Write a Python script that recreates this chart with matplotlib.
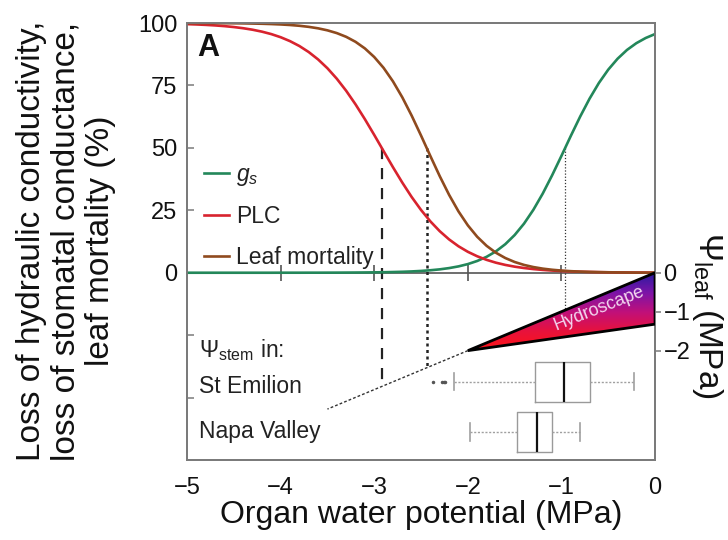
import numpy as np
import matplotlib
matplotlib.use("Agg")
import matplotlib.pyplot as plt
from matplotlib.patches import Polygon
from matplotlib.colors import LinearSegmentedColormap

plt.rcParams["font.family"] = ["Liberation Sans", "DejaVu Sans"]
plt.rcParams["mathtext.fontset"] = "custom"
plt.rcParams["mathtext.rm"] = "Liberation Sans"
plt.rcParams["mathtext.it"] = "Liberation Sans:italic"
plt.rcParams["mathtext.bf"] = "Liberation Sans:bold"

# organ water potential (MPa) and the three response curves (%)
psi = [-5.0, -4.9, -4.8, -4.7, -4.6, -4.5, -4.4, -4.3, -4.2, -4.1,
       -4.0, -3.9, -3.8, -3.7, -3.6, -3.5, -3.4, -3.3, -3.2, -3.1,
       -3.0, -2.9, -2.8, -2.7, -2.6, -2.5, -2.4, -2.3, -2.2, -2.1,
       -2.0, -1.9, -1.8, -1.7, -1.6, -1.5, -1.4, -1.3, -1.2, -1.1,
       -1.0, -0.9, -0.8, -0.7, -0.6, -0.5, -0.4, -0.3, -0.2, -0.1, 0.0]
gs = [0.0, 0.0, 0.0, 0.0, 0.0, 0.0, 0.0, 0.0, 0.0, 0.0,
      0.01, 0.01, 0.01, 0.02, 0.02, 0.03, 0.04, 0.06, 0.08, 0.11,
      0.15, 0.20, 0.28, 0.38, 0.52, 0.72, 0.99, 1.35, 1.86, 2.54,
      3.46, 4.71, 6.37, 8.56, 11.43, 15.09, 19.65, 25.20, 31.69, 38.99,
      46.80, 54.79, 62.53, 69.68, 75.99, 81.33, 85.71, 89.21, 91.92, 94.00, 95.58]
plc = [99.55, 99.42, 99.25, 99.03, 98.75, 98.38, 97.91, 97.31, 96.54, 95.56,
       94.31, 92.74, 90.79, 88.37, 85.42, 81.88, 77.69, 72.87, 67.43, 61.49,
       55.18, 48.70, 42.26, 36.08, 30.32, 25.13, 20.55, 16.63, 13.33, 10.60,
       8.38, 6.59, 5.16, 4.02, 3.13, 2.43, 1.89, 1.46, 1.13, 0.87,
       0.67, 0.52, 0.40, 0.31, 0.24, 0.18, 0.14, 0.11, 0.08, 0.07, 0.05]
mortality = [99.98, 99.97, 99.96, 99.94, 99.92, 99.89, 99.85, 99.78, 99.70, 99.58,
             99.42, 99.20, 98.89, 98.46, 97.87, 97.06, 95.96, 94.47, 92.47, 89.82,
             86.38, 82.03, 76.63, 70.22, 62.90, 54.93, 46.70, 38.65, 31.17, 24.56,
             18.97, 14.40, 10.79, 8.00, 5.89, 4.30, 3.13, 2.27, 1.64, 1.19,
             0.86, 0.62, 0.44, 0.32, 0.23, 0.17, 0.12, 0.09, 0.06, 0.04, 0.03]

# water potential at 50 % for each curve
p50_plc = -2.92
p50_mort = -2.44
p50_gs = -0.96

# hydroscape (psi_stem vs psi_leaf) and the 1:1 extension
hydro_stem = [0.0, -2.0, 0.0]
hydro_leaf = [0.0, -2.0, -1.32]
line_stem = [-2.0, -3.5]

# psi_stem distributions per site
sites = ["St Emilion", "Napa Valley"]
site_stats = [
    dict(whislo=-2.15, q1=-1.28, med=-0.97, q3=-0.69, whishi=-0.22,
         fliers=[-2.37, -2.28, -2.26, -2.24]),
    dict(whislo=-1.98, q1=-1.48, med=-1.26, q3=-1.10, whishi=-0.80, fliers=[]),
]

K = 15.6  # left-axis units per MPa on the right axis
GRAY = "#7a7a7a"

fig = plt.figure(figsize=(7.28, 5.4), dpi=100)
ax = fig.add_axes([0.2569, 0.1481, 0.6429, 0.8093])
ax.set_xlim(-5, 0)
ax.set_ylim(-75, 100)

ax.axhline(0, color="#555555", lw=1.2, zorder=1.5)
ax.plot([-4, -3, -2, -1], [0, 0, 0, 0], ls="none", marker="|", ms=11, mew=1.2,
        color="#555555", zorder=1.6)

l_gs, = ax.plot(psi, gs, color="#23875a", lw=1.9, zorder=3)
l_plc, = ax.plot(psi, plc, color="#d8232e", lw=1.9, zorder=3)
l_mort, = ax.plot(psi, mortality, color="#8f4a1e", lw=1.9, zorder=3)

ax.plot([p50_plc, p50_plc], [50, p50_plc * K], color="#222222", lw=1.6,
        ls=(0, (5, 4)), zorder=2)
ax.plot([p50_mort, p50_mort], [50, p50_mort * K], color="#222222", lw=1.8,
        ls=(0, (1.2, 1.4)), zorder=2)
ax.plot([p50_gs, p50_gs], [50, p50_gs * K], color="#333333", lw=0.9,
        ls=(0, (1, 1.5)), zorder=2)

ax.bxp(site_stats, positions=[-43.6, -63.7], widths=16, vert=False,
       capwidths=7, showfliers=True, patch_artist=False,
       boxprops=dict(color="#9a9a9a", lw=1.0),
       medianprops=dict(color="#111111", lw=1.6),
       whiskerprops=dict(color="#a0a0a0", lw=1.0, ls=(0, (1.5, 1.2))),
       capprops=dict(color="#a0a0a0", lw=1.2),
       flierprops=dict(marker=".", ms=3, mfc="#555555", mec="#555555"))

ax.text(-4.87, -31, r"$\Psi_{\mathrm{stem}}$ in:", fontsize=16.5, va="center", color="#222222")
ax.text(-4.87, -45.5, sites[0], fontsize=16.5, va="center", color="#222222")
ax.text(-4.87, -63.5, sites[1], fontsize=16.5, va="center", color="#222222")

ax.text(0.022, 0.978, "A", transform=ax.transAxes, fontsize=22, fontweight="bold",
        va="top", ha="left", color="#111111")

leg = ax.legend([l_gs, l_plc, l_mort], [r"$g_s$", "PLC", "Leaf mortality"],
                loc="upper left", bbox_to_anchor=(0.036, 0.679), frameon=False,
                fontsize=16.5, handlelength=1.1, handletextpad=0.3,
                labelspacing=0.75, borderpad=0, borderaxespad=0)
for t in leg.get_texts():
    t.set_color("#222222")

ax.set_yticks([-50, -25, 0, 25, 50, 75, 100])
ax.set_yticklabels(["", "", "0", "25", "50", "75", "100"])
ax.set_xticks([-5, -4, -3, -2, -1, 0])
ax.set_xticklabels(["\u22125", "\u22124", "\u22123", "\u22122", "\u22121", "0"])
ax.tick_params(axis="y", direction="in", length=5, width=1.1, color=GRAY,
               labelsize=17, pad=7, labelcolor="#111111")
ax.tick_params(axis="x", length=0, labelsize=17, pad=12, labelcolor="#111111")
ax.set_xlabel("Organ water potential (MPa)", fontsize=23, color="#111111", labelpad=1)
for s in ax.spines.values():
    s.set_color(GRAY)
    s.set_linewidth(1.3)

# right axis: leaf water potential
ax2 = ax.twinx()
ax2.set_ylim(-75 / K, 100 / K)
ax2.set_yticks([-2, -1, 0])
ax2.set_yticklabels(["\u22122", "\u22121", "0"])
ax2.tick_params(axis="y", direction="out", length=4, width=1.1, color=GRAY,
                labelsize=17, pad=2, labelcolor="#111111")
for s in ax2.spines.values():
    s.set_color(GRAY)
    s.set_linewidth(1.3)

cmap = LinearSegmentedColormap.from_list(
    "hydro", ["#ff1414", "#e8123c", "#c0107a", "#7c14a8", "#2a1aa0"])
grad = np.linspace(0, 1, 256).reshape(-1, 1)
img = ax2.imshow(grad, cmap=cmap, extent=(-2, 0, -2, 0), origin="lower",
                 aspect="auto", zorder=2)
poly = Polygon(np.column_stack([hydro_stem, hydro_leaf]), closed=True,
               facecolor="none", edgecolor="black", lw=2.0, zorder=3)
ax2.add_patch(poly)
img.set_clip_path(poly)
ax2.plot(line_stem, line_stem, color="#333333", lw=1.0, ls=(0, (2, 1.5)), zorder=2)
ax2.text(-0.6, -0.93, "Hydroscape", rotation=21.5, rotation_mode="anchor",
         ha="center", va="center", fontsize=13, color="#f3d6ef", zorder=4)
ax2.set_xlim(-5, 0)
ax2.set_ylim(-75 / K, 100 / K)

fig.text(66 / 728, 1 - 241 / 540,
         "Loss of hydraulic conductivity,\nloss of stomatal conductance,\nleaf mortality (%)",
         rotation=90, ha="center", va="center", multialignment="center",
         fontsize=24, color="#111111", linespacing=1.15)
fig.text(707 / 728, 1 - 315 / 540, r"$\Psi_{\mathrm{leaf}}$ (MPa)", rotation=270,
         ha="center", va="center", fontsize=24, color="#111111")

fig.savefig("out.png", dpi=100)
